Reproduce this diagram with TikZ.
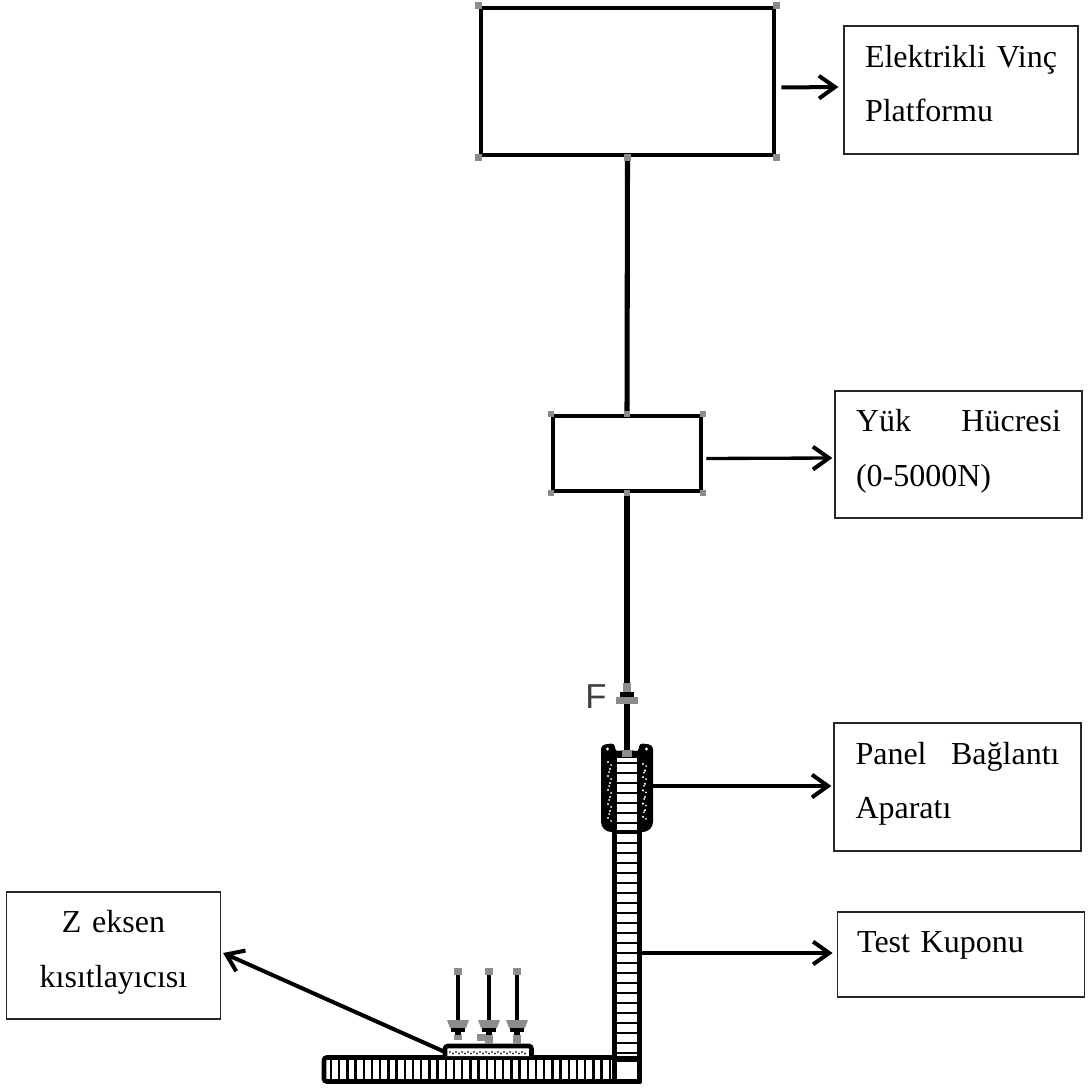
\documentclass[tikz,border=0pt]{standalone}
\usepackage{fontspec}
\setmainfont{Liberation Serif}
\newfontfamily\forcefont{Liberation Sans}
\usetikzlibrary{positioning, arrows.meta}

\newcommand{\lowroom}{\rule[-10pt]{0pt}{10pt}}

\tikzset{
    labelbox/.style={draw=black!85, line width=0.9pt, inner sep=0pt, fill=white,
        font=\fontsize{24}{41}\selectfont},
    unitbox/.style={draw=black, line width=3.4pt, inner sep=0pt},
    gripdot/.style={fill=black!45, inner sep=0pt, minimum size=5.5pt},
    pointer/.style={black, line width=3pt, -{Straight Barb[length=12pt, width=17pt, line width=3pt]}},
    thinpointer/.style={pointer, line width=2.5pt},
    couponline/.style={black, line width=3.4pt},
    rung/.style={black, line width=1.8pt},
}

\begin{document}
\begin{tikzpicture}[x=0.75pt, y=-0.75pt]
    \useasboundingbox (0,0) rectangle (1089,1091);

    % Platform and load cell
    \node[unitbox, minimum width=219.75pt, minimum height=110.25pt] (platform) at (627.5,81.5) {};
    \node[unitbox, minimum width=111pt, minimum height=56.25pt] (loadcell) at (627,453.5) {};
    \coordinate (forcetop) at (627,692);
    \coordinate (forcebase) at (627,704);
    \coordinate (clamptop) at (627,752);

    \draw[line width=3.8pt] (platform.south) -- (loadcell.north);
    \draw[line width=3.8pt] (loadcell.south) -- (forcetop);
    \draw[line width=3.8pt] (forcebase) -- (clamptop);

    \foreach \anchorname in {north west, north east, south west, south east, south} {
        \node[gripdot] at (platform.\anchorname) {};
    }
    \foreach \anchorname in {north west, north, north east, south west, south, south east} {
        \node[gripdot, minimum size=4.5pt] at (loadcell.\anchorname) {};
    }

    % Force symbol
    \fill[black!45] (623,683) rectangle (631,692);
    \fill[black] (620,692) rectangle (634,697);
    \fill[black!45] (616,697) rectangle (638,704);
    \node[text=black!75, font=\fontsize{26}{26}\forcefont] (forcename) at (596,697) {F};

    % Vertical coupon
    \fill[white] (617,760) rectangle (637,1056);
    \draw[couponline] (614.5,760) -- (614.5,1083);
    \draw[couponline] (639.5,760) -- (639.5,1083);
    \foreach \rungy in {763,773,...,1053} {
        \draw[rung] (614,\rungy) -- (640,\rungy);
    }

    % Clamp
    \fill[black, rounded corners=3pt] (601,790) -- (601,745) -- (615,743) -- (615,752) -- (622,750) -- (632,750)
        -- (639,752) -- (639,743) -- (653,745) -- (653,826) -- (647,832) -- (607,832) -- (601,826) -- cycle;
    \fill[white] (617,758) rectangle (637,830);
    \foreach \rungy in {763,773,...,823} {
        \draw[rung] (616,\rungy) -- (638,\rungy);
    }
    \fill[white] (607.5,749) circle (1.6) (646.5,749) circle (1.6);
    \foreach \dotrow in {0,...,8} {
        \fill[white] ({608+mod(\dotrow,2)*2},{762+\dotrow*7}) circle (1.2);
        \fill[white] ({611-mod(\dotrow,2)*2},{765+\dotrow*7}) circle (1);
        \fill[white] ({643+mod(\dotrow,2)*2},{764+\dotrow*6.6}) circle (1.2);
        \fill[white] ({646-mod(\dotrow,2)*2},{766+\dotrow*6.6}) circle (1);
    }
    \fill[black!45] (622,750) rectangle (632,757);

    % Horizontal coupon
    \draw[couponline, rounded corners=2pt] (615,1057.5) -- (324,1057.5) -- (324,1081.5) -- (641,1081.5);
    \fill[white] (618,1063) rectangle (636,1079);
    \draw[line width=4pt] (614,1059) -- (640,1059);
    \foreach \rungx in {331,339.2,...,612} {
        \draw[rung] (\rungx,1057) -- (\rungx,1082);
    }

    % Z constraint
    \draw[couponline, fill=white, rounded corners=2pt] (445,1056) -- (445,1046) -- (531.5,1046) -- (531.5,1056);
    \foreach \dotx in {450,453,...,526} {
        \fill[black!80] (\dotx,{1052+mod(\dotx,2)*1.5}) circle (1.2);
    }
    \foreach \pinx/\pinlow in {458/1040, 489/1044, 517/1044} {
        \fill[black!45] ({\pinx-4},968) rectangle ({\pinx+4},975);
        \draw[line width=3.4pt] (\pinx,975) -- (\pinx,1021);
        \fill[black!45] ({\pinx-11},1020) -- ({\pinx+11},1020) -- ({\pinx+8},1028) -- ({\pinx-8},1028) -- cycle;
        \fill[black] ({\pinx-7},1028) rectangle ({\pinx+7},1032);
        \fill[black] ({\pinx-3},1032) rectangle ({\pinx+3},1035);
        \fill[black!45] ({\pinx-4},1035) rectangle ({\pinx+4},\pinlow);
    }
    \fill[black!45] (477,1034) rectangle (486,1041);

    % Labels
    \node[labelbox, minimum height=96pt, text width=144pt, inner xsep=15.75pt, align=left] (vincbox) at (961,90)
        {Elektrikli \hfill Vinç\\Platformu\lowroom};
    \node[labelbox, minimum height=95.25pt, text width=153.75pt, inner xsep=15.75pt, align=left] (hucrebox) at (958.5,454.5)
        {Yük \hfill Hücresi\\(0-5000N)\lowroom};
    \node[labelbox, minimum height=96pt, text width=153pt, inner xsep=16.125pt, align=left] (panelbox) at (957.5,787)
        {Panel \hfill Bağlantı\\Aparatı\lowroom};
    \node[labelbox, minimum height=63.75pt, text width=155.75pt, inner xsep=15pt, align=left, text depth=18.6pt] (kuponbox) at (961,954.5)
        {Test Kuponu};
    \node[labelbox, minimum height=95.25pt, text width=130pt, inner xsep=15.25pt, align=center] (eksenbox) at (113.5,955.5)
        {Z eksen\\kısıtlayıcısı\lowroom};

    % Pointers
    \coordinate (clampside) at (653,786);
    \coordinate (couponside) at (642,953);
    \coordinate (padcorner) at (445,1052);
    \draw[pointer] ([shift={(5,6)}]platform.east) -- ([shift={(-5,-3)}]vincbox.west);
    \draw[thinpointer] ([shift={(3,5)}]loadcell.east) -- ([shift={(-2,3.5)}]hucrebox.west);
    \draw[thinpointer] (clampside) -- ([shift={(-2,-1)}]panelbox.west);
    \draw[thinpointer] (couponside) -- ([shift={(-4,-1.5)}]kuponbox.west);
    \draw[pointer] (padcorner) -- ([shift={(2,-2.5)}]eksenbox.east);
\end{tikzpicture}
\end{document}
